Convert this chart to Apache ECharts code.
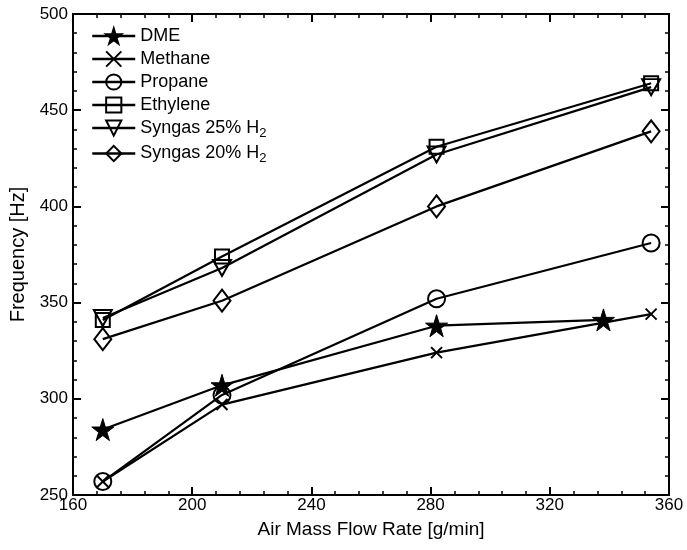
<!DOCTYPE html>
<html>
<head>
<meta charset="utf-8">
<script src="https://cdn.jsdelivr.net/npm/echarts@6/dist/echarts.min.js"></script>
<style>
  html, body { margin: 0; padding: 0; background: #fff; }
  #chart { width: 687px; height: 550px; }
</style>
</head>
<body>
<div id="chart"></div>
<script>
// air mass flow rate [g/min]
const flowX = [170, 210, 282, 354]
const dmeX = [170, 210, 282, 338]

// frequency [Hz]
const dme = [284, 307, 338, 341]
const methane = [257, 297, 324, 344]
const propane = [257, 302, 352, 381]
const ethylene = [341, 374, 431, 464]
const syngas25 = [342, 368, 427, 462]
const syngas20 = [331, 351, 400, 439]

const xTicks = [160, 200, 240, 280, 320, 360]
const yTicks = [250, 300, 350, 400, 450, 500]

const STAR = 'path://M50,0 L61,35 L98,35 L68,57 L79,91 L50,70 L21,91 L32,57 L2,35 L39,35 Z'
const CROSS = 'path://M0,0 L10,10 M10,0 L0,10'
const TRI_DOWN = 'path://M0,0 L20,0 L10,18 Z'

const font = '"Liberation Sans", Arial, sans-serif'

function pairs (xs, ys) {
  return xs.map((x, i) => [x, ys[i]])
}

function makeSeries (name, xs, ys, symbol, size, filled) {
  return {
    name: name,
    type: 'line',
    data: pairs(xs, ys),
    symbol: symbol,
    symbolSize: size,
    showAllSymbol: true,
    lineStyle: { color: '#000', width: 2.2 },
    itemStyle: {
      color: filled ? '#000' : 'rgba(0,0,0,0)',
      borderColor: '#000',
      borderWidth: filled ? 1 : 2
    },
    emphasis: { disabled: true },
    z: 3
  }
}

const series = [
  makeSeries('DME', dmeX, dme, STAR, 22, true),
  makeSeries('Methane', flowX, methane, CROSS, 11, false),
  makeSeries('Propane', flowX, propane, 'circle', 17, false),
  makeSeries('Ethylene', flowX, ethylene, 'rect', 14, false),
  makeSeries('Syngas 25% H2', flowX, syngas25, TRI_DOWN, [18, 16], false),
  makeSeries('Syngas 20% H2', flowX, syngas20, 'diamond', [17, 22], false)
]

const axisCommon = {
  type: 'value',
  axisLine: { show: true, lineStyle: { color: '#000', width: 2 } },
  axisTick: { show: true, inside: true, length: 8, lineStyle: { color: '#000', width: 2 } },
  minorTick: { show: true, splitNumber: 5, length: 4, lineStyle: { color: '#000', width: 1.5 } },
  splitLine: { show: false }
}

const chart = echarts.init(document.getElementById('chart'))

chart.setOption({
  animation: false,
  backgroundColor: '#fff',
  grid: { left: 73, right: 18, top: 14, bottom: 55 },
  legend: {
    orient: 'vertical',
    left: 86,
    top: 22,
    itemWidth: 43,
    itemHeight: 19,
    itemGap: 5,
    lineStyle: { width: 2.5, color: '#000' },
    data: series.map(s => s.name),
    textStyle: {
      fontFamily: font,
      fontSize: 18,
      color: '#000',
      rich: {
        t: { fontFamily: font, fontSize: 18, color: '#000' },
        sub: { fontFamily: font, fontSize: 13, color: '#000', verticalAlign: 'bottom', padding: [10, 0, 0, 0] }
      }
    },
    formatter: name => {
      if (name.endsWith('H2')) {
        return '{t|' + name.slice(0, -1) + '}{sub|2}'
      }
      return name
    }
  },
  xAxis: [
    Object.assign({}, axisCommon, {
      min: xTicks[0],
      max: xTicks[xTicks.length - 1],
      interval: 40,
      position: 'bottom',
      name: 'Air Mass Flow Rate [g/min]',
      nameLocation: 'middle',
      nameGap: 25,
      nameTextStyle: { fontFamily: font, fontSize: 19, color: '#000' },
      axisLabel: { fontFamily: font, fontSize: 17, color: '#000', margin: 2 }
    }),
    Object.assign({}, axisCommon, {
      min: xTicks[0],
      max: xTicks[xTicks.length - 1],
      interval: 40,
      position: 'top',
      axisLabel: { show: false }
    })
  ],
  yAxis: [
    Object.assign({}, axisCommon, {
      min: yTicks[0],
      max: yTicks[yTicks.length - 1],
      interval: 50,
      position: 'left',
      name: 'Frequency [Hz]',
      nameLocation: 'middle',
      nameGap: 42,
      nameTextStyle: { fontFamily: font, fontSize: 20, color: '#000' },
      axisLabel: { fontFamily: font, fontSize: 17, color: '#000', margin: 5 }
    }),
    Object.assign({}, axisCommon, {
      min: yTicks[0],
      max: yTicks[yTicks.length - 1],
      interval: 50,
      position: 'right',
      axisLabel: { show: false }
    })
  ],
  series: series
})
</script>
</body>
</html>
